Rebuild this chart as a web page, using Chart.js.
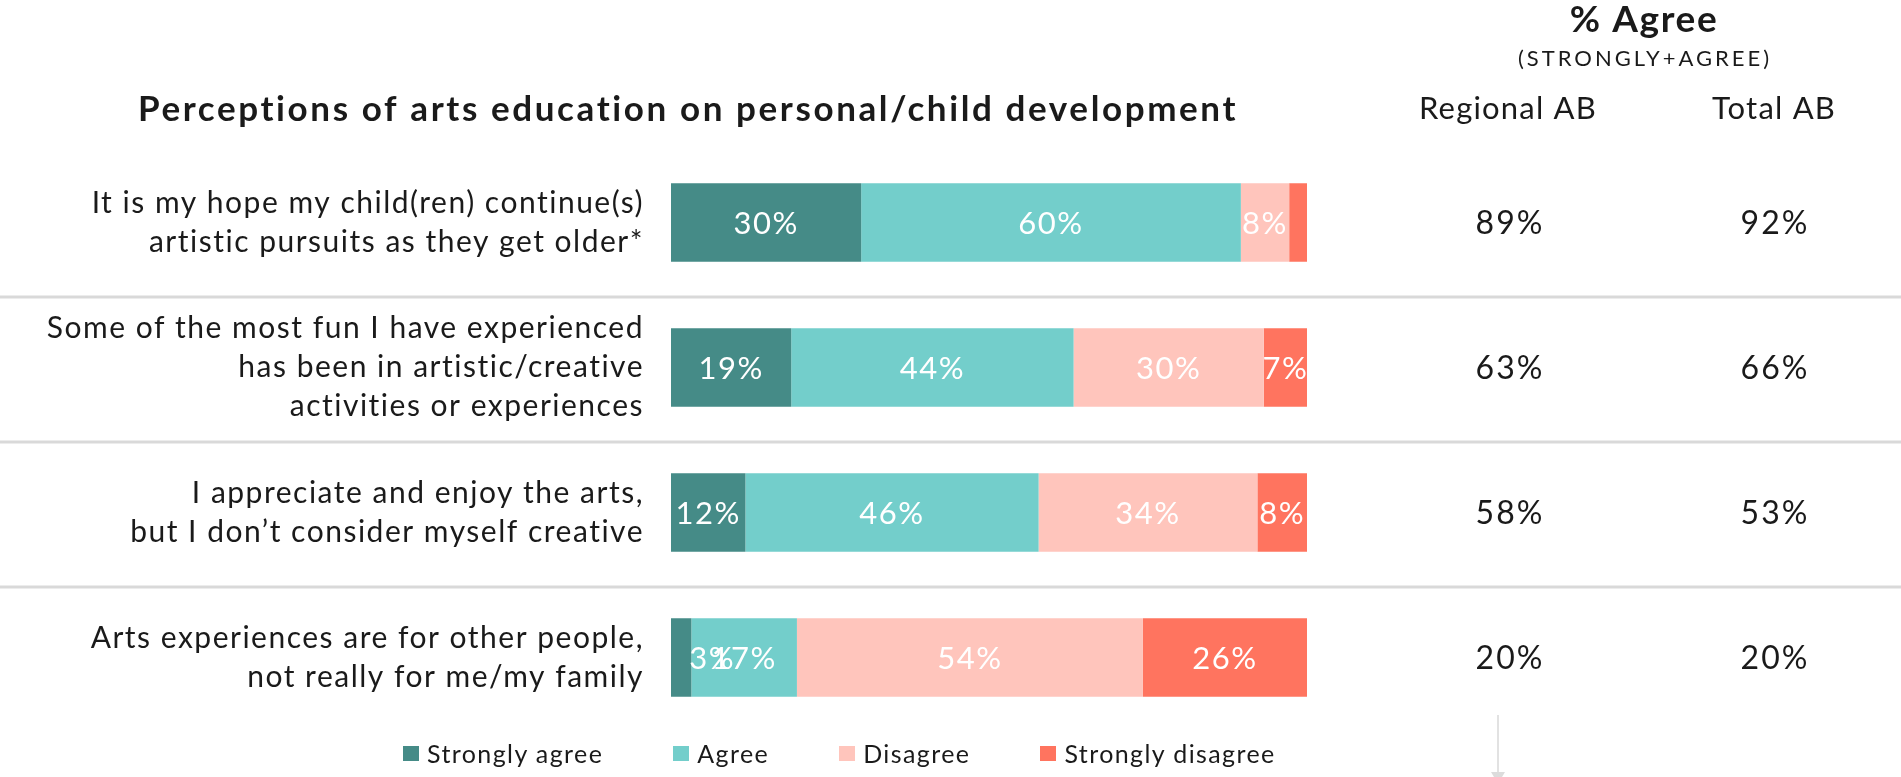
<!DOCTYPE html>
<html>
<head>
<meta charset="utf-8">
<title>Perceptions of arts education</title>
<script src="https://cdn.jsdelivr.net/npm/chart.js@4.4.1/dist/chart.umd.min.js"></script>
<style>
  html, body { margin: 0; padding: 0; background: #fff; }
  #wrap { position: relative; width: 1901px; height: 777px; overflow: hidden; }
  #legend {
    position: absolute; left: 403px; top: 738px;
    display: flex; gap: 70px;
    font-family: Lato, sans-serif; font-size: 25px; letter-spacing: 1.4px; color: #1a1a1a;
  }
  #legend .item { display: flex; align-items: center; gap: 8px; }
  #legend .box { width: 16px; height: 15px; }
</style>
</head>
<body>
<div id="wrap">
  <canvas id="chart" width="1901" height="777"></canvas>
  <div id="legend"></div>
</div>
<script>
// data
const categories = [
  ['It is my hope my child(ren) continue(s)', 'artistic pursuits as they get older*'],
  ['Some of the most fun I have experienced', 'has been in artistic/creative', 'activities or experiences'],
  ['I appreciate and enjoy the arts,', 'but I don\u2019t consider myself creative'],
  ['Arts experiences are for other people,', 'not really for me/my family']
];
const seriesNames = ['Strongly agree', 'Agree', 'Disagree', 'Strongly disagree'];
const stronglyAgree = [29.9, 18.9, 11.7, 3.2];
const agree = [59.7, 44.4, 46.1, 16.6];
const disagree = [7.6, 29.9, 34.4, 54.4];
const stronglyDisagree = [2.8, 6.8, 7.8, 25.8];
const regionalAgree = [89, 63, 58, 20];
const totalAgree = [92, 66, 53, 20];
const colors = ['#458b87', '#73cecb', '#ffc5bc', '#ff745f'];

const chartTitle = 'Perceptions of arts education on personal/child development';
const textColor = '#1a1a1a';

// slightly wider tracking for the axis labels
const tracking = {
  id: 'tracking',
  beforeDraw(chart) { chart.ctx.letterSpacing = '1.5px'; },
  afterDraw(chart) { chart.ctx.letterSpacing = '0px'; }
};

// white % labels inside each bar segment
const barLabels = {
  id: 'barLabels',
  afterDatasetsDraw(chart) {
    const ctx = chart.ctx;
    ctx.save();
    ctx.font = '31px Lato';
    ctx.letterSpacing = '1.5px';
    ctx.fillStyle = '#ffffff';
    ctx.textAlign = 'center';
    ctx.textBaseline = 'middle';
    chart.data.datasets.forEach((ds, i) => {
      chart.getDatasetMeta(i).data.forEach((bar, j) => {
        const v = ds.data[j];
        if (v < 3) return;
        const txt = Math.round(v) + '%';
        const w = ctx.measureText(txt).width;
        let x = (bar.x + bar.base) / 2;
        // segment far too narrow: push the label past the segment end
        if (bar.x - bar.base < w * 0.7) x = bar.x + w / 2 - 2;
        ctx.fillText(txt, x, bar.y + 1);
      });
    });
    ctx.restore();
  }
};

// title, right-hand columns, row separators
const extras = {
  id: 'extras',
  afterDraw(chart) {
    const ctx = chart.ctx;
    const y = chart.scales.y;
    ctx.save();
    ctx.fillStyle = textColor;
    ctx.textAlign = 'center';
    ctx.textBaseline = 'middle';

    ctx.font = 'bold 35px Lato';
    ctx.letterSpacing = '2.6px';
    ctx.fillText(chartTitle, 688, 110);

    ctx.font = 'bold 37px Lato';
    ctx.letterSpacing = '1.6px';
    ctx.fillText('% Agree', 1644, 20);
    ctx.font = '22px Lato';
    ctx.letterSpacing = '3px';
    ctx.fillText('(STRONGLY+AGREE)', 1645, 59);
    ctx.font = '31px Lato';
    ctx.letterSpacing = '1.2px';
    ctx.fillText('Regional AB', 1508, 109);
    ctx.fillText('Total AB', 1774, 109);

    ctx.font = '32px Lato';
    ctx.letterSpacing = '2px';
    categories.forEach((c, i) => {
      const py = y.getPixelForValue(i);
      ctx.fillText(regionalAgree[i] + '%', 1510, py + 1);
      ctx.fillText(totalAgree[i] + '%', 1775, py + 1);
    });

    // separators between rows
    ctx.strokeStyle = '#d9d9d9';
    ctx.lineWidth = 3;
    for (let i = 0; i < categories.length - 1; i++) {
      const sy = (y.getPixelForValue(i) + y.getPixelForValue(i + 1)) / 2 + 2;
      ctx.beginPath();
      ctx.moveTo(0, sy);
      ctx.lineTo(chart.width, sy);
      ctx.stroke();
    }

    // faint pointer line under the regional column
    ctx.strokeStyle = '#e2e2e2';
    ctx.lineWidth = 2;
    ctx.beginPath();
    ctx.moveTo(1498, 715);
    ctx.lineTo(1498, 772);
    ctx.stroke();
    ctx.fillStyle = '#dcdcdc';
    ctx.beginPath();
    ctx.moveTo(1491, 772);
    ctx.lineTo(1505, 772);
    ctx.lineTo(1502, 777);
    ctx.lineTo(1494, 777);
    ctx.closePath();
    ctx.fill();
    ctx.restore();
  }
};

const seriesData = [stronglyAgree, agree, disagree, stronglyDisagree];

const chart = new Chart(document.getElementById('chart'), {
  type: 'bar',
  data: {
    labels: categories,
    datasets: seriesNames.map((name, i) => ({
      label: name,
      data: seriesData[i],
      backgroundColor: colors[i],
      borderWidth: 0,
      barPercentage: 0.54,
      categoryPercentage: 1
    }))
  },
  options: {
    indexAxis: 'y',
    responsive: false,
    animation: false,
    devicePixelRatio: 1,
    layout: { padding: { left: 0, right: 594, top: 150, bottom: 47 } },
    scales: {
      x: {
        stacked: true,
        min: 0,
        max: 100,
        display: false
      },
      y: {
        stacked: true,
        grid: { display: false, drawTicks: false },
        border: { display: false },
        ticks: {
          color: textColor,
          padding: 27,
          font: { family: 'Lato', size: 30, lineHeight: 1.31 }
        },
        afterFit: (scale) => {
          scale.width = 671;
          // labels sit inside their rows, no extra room needed
          scale.paddingTop = 0;
          scale.paddingBottom = 0;
        }
      }
    },
    plugins: {
      legend: { display: false },
      tooltip: { enabled: false }
    }
  },
  plugins: [tracking, barLabels, extras]
});

// html legend built from the chart datasets
const legendEl = document.getElementById('legend');
chart.data.datasets.forEach((ds) => {
  const item = document.createElement('div');
  item.className = 'item';
  const box = document.createElement('span');
  box.className = 'box';
  box.style.background = ds.backgroundColor;
  const txt = document.createElement('span');
  txt.textContent = ds.label;
  item.appendChild(box);
  item.appendChild(txt);
  legendEl.appendChild(item);
});
</script>
</body>
</html>
